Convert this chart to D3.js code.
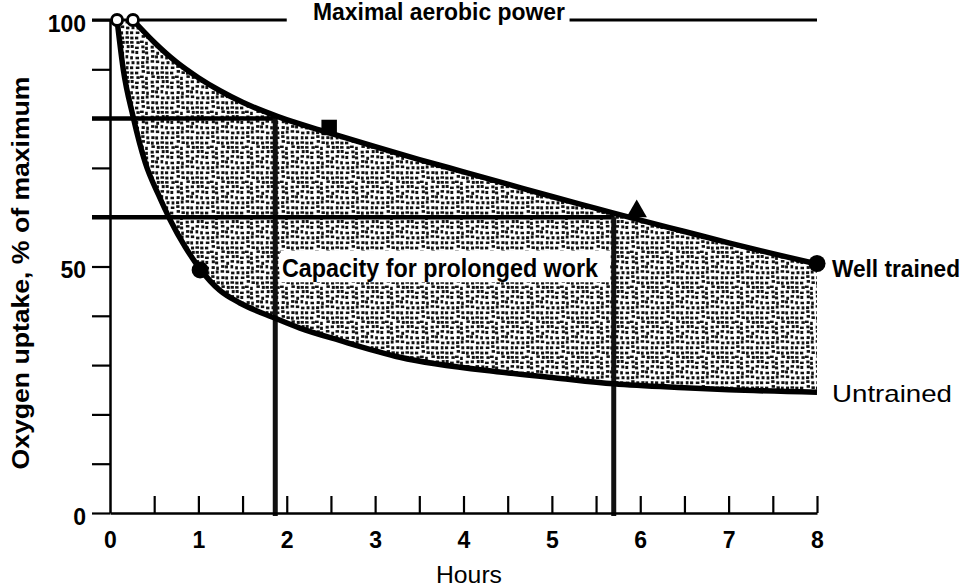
<!DOCTYPE html>
<html><head><meta charset="utf-8">
<script src="https://cdn.jsdelivr.net/npm/d3@7"></script>
<style>html,body{margin:0;padding:0;background:#fff;} svg{display:block;}</style>
</head><body><svg id="chart" width="967" height="587"></svg>
<script>
// ---- data ----
const hourTicks = [0,1,2,3,4,5,6,7,8];
const minorHourTicks = [0.5,1,1.5,2,2.5,3,3.5,4,4.5,5,5.5,6,6.5,7,7.5,8];
const pctTicks = [0,10,20,30,40,50,60,70,80,90,100];
const pctTickLabels = [0,50,100];

const wellTrainedHours = [0.26,0.5,0.75,1.0,1.25,1.5,1.9,2.5,3.0,3.5,4.0,4.5,5.0,5.5,6.0,6.5,7.0,7.5,8.0];
const wellTrainedPct   = [100,95.5,91.5,88.3,85.6,83.3,80.4,77,74.3,71.7,69.2,66.7,64.2,61.8,59.4,57.1,54.8,52.6,50.5];

const untrainedHours = [0.08,0.15,0.26,0.4,0.55,0.68,0.85,1.02,1.24,1.47,1.87,2.15,2.6,3.28,4.41,5.0,5.7,6.5,7.0,8.0];
const untrainedPct   = [100,90,80.5,71,64.5,59.5,54,49.5,45.2,42.6,39.5,37.5,35,31.6,28.6,27.5,26.2,25.4,25,24.5];

const openMarkerHours = [0.08,0.26];
const openMarkerPct = [100,100];
const wellTrainedMarkerHours = [2.48,5.96,8.0];
const wellTrainedMarkerPct = [78.2,61.2,50.6];
const wellTrainedMarkerShapes = ["square","triangle","circle"];
const untrainedMarkerHours = [1.02];
const untrainedMarkerPct = [49.3];

const capacityLevels = [80,60];          // % of max
const capacityHours = [1.87,5.7];        // hours sustainable
const maxPowerLevel = 100;
const maxPowerSegments = [[0,2.0],[5.2,8.0]];

// ---- chart ----
const svg = d3.select("#chart");
const x = d3.scaleLinear().domain([0,8]).range([110,817]);
const y = d3.scaleLinear().domain([0,100]).range([513,20]);
const FONT = "'Liberation Sans', Arial, sans-serif";

// stipple texture (deterministic jittered grid)
const defs = svg.append("defs");
const T = 35, G = 7, S = T / G;
const pat = defs.append("pattern").attr("id","stipple")
  .attr("patternUnits","userSpaceOnUse").attr("width",T).attr("height",T);
pat.append("rect").attr("width",T).attr("height",T).attr("fill","#fff");
const frac = v => v - Math.floor(v);
for (let r = 0; r < G; r++) for (let c = 0; c < G; c++) {
  const k = r * G + c;
  const jx = frac(Math.sin(k * 12.9898 + 1.3) * 43758.5453);
  const jy = frac(Math.sin(k * 78.233 + 4.1) * 24634.6345);
  const jw = frac(Math.sin(k * 3.77 + 9.2) * 9631.11);
  pat.append("rect")
    .attr("x", c * S + jx * 1.8).attr("y", r * S + jy * 1.8)
    .attr("width", 2.6 + jw * 1.1).attr("height", 3.3 - jw * 0.9)
    .attr("fill", "#111");
}

const upper = wellTrainedHours.map((h,i)=>[h,wellTrainedPct[i]]);
const lower = untrainedHours.map((h,i)=>[h,untrainedPct[i]]);
const line = d3.line().x(d=>x(d[0])).y(d=>y(d[1])).curve(d3.curveMonotoneX);

// shaded capacity band
const bandPath = line(upper) + line(lower.slice().reverse()).replace(/^M/,"L") + "Z";
svg.append("path").attr("d",bandPath).attr("fill","url(#stipple)").attr("stroke","none");

// white box behind label
svg.append("rect").attr("x",x(1.93)).attr("y",y(53.2)).attr("width",x(5.66)-x(1.93))
  .attr("height",y(46.8)-y(53.2)).attr("fill","#fff");

// capacity reference lines
capacityLevels.forEach((lvl,i)=>{
  svg.append("line").attr("x1",92).attr("x2",x(capacityHours[i]))
    .attr("y1",y(lvl)).attr("y2",y(lvl)).attr("stroke","#000").attr("stroke-width",4.5);
  svg.append("line").attr("x1",x(capacityHours[i])).attr("x2",x(capacityHours[i]))
    .attr("y1",y(lvl)).attr("y2",y(0)+3).attr("stroke","#111").attr("stroke-width",5);
});

// maximal aerobic power line
maxPowerSegments.forEach(([a,b],i)=>{
  svg.append("line").attr("x1",i===0?92:x(a)).attr("x2",x(b))
    .attr("y1",y(maxPowerLevel)).attr("y2",y(maxPowerLevel))
    .attr("stroke","#000").attr("stroke-width",3);
});

// curves
svg.append("path").attr("d",line(upper)).attr("fill","none").attr("stroke","#000").attr("stroke-width",5.5);
svg.append("path").attr("d",line(lower)).attr("fill","none").attr("stroke","#000").attr("stroke-width",5.5);

// axes
const yAxis = d3.axisLeft(y).tickValues(pctTicks).tickSize(18).tickSizeOuter(0).tickPadding(6)
  .tickFormat(d => pctTickLabels.includes(d) ? d : "");
const gy = svg.append("g").attr("transform",`translate(${x(0)},0)`).call(yAxis);
gy.select(".domain").attr("stroke","#000").attr("stroke-width",2.5);
gy.selectAll(".tick line").attr("stroke","#000").attr("stroke-width",2.2);
gy.selectAll(".tick text").attr("font-family",FONT).attr("font-weight","bold")
  .attr("font-size",23).attr("fill","#000").attr("dy","0.48em");

const xMinor = d3.axisTop(x).tickValues(minorHourTicks).tickSize(17).tickSizeOuter(0).tickFormat("");
const gxm = svg.append("g").attr("transform",`translate(0,${y(0)})`).call(xMinor);
gxm.select(".domain").attr("stroke","#000").attr("stroke-width",2.5);
gxm.selectAll(".tick line").attr("stroke","#000").attr("stroke-width",2.2);

const xAxis = d3.axisBottom(x).tickValues(hourTicks).tickSize(0).tickPadding(19);
const gx = svg.append("g").attr("transform",`translate(0,${y(0)})`).call(xAxis);
gx.select(".domain").remove();
gx.selectAll(".tick text").attr("font-family",FONT).attr("font-weight","bold")
  .attr("font-size",23).attr("fill","#000");

// markers
svg.selectAll(".openmk").data(openMarkerHours).join("circle")
  .attr("cx",d=>x(d)).attr("cy",(d,i)=>y(openMarkerPct[i])).attr("r",5.5)
  .attr("fill","#fff").attr("stroke","#000").attr("stroke-width",2.8);
const symType = {square:d3.symbolSquare, triangle:d3.symbolTriangle, circle:d3.symbolCircle};
const symSize = {square:240, triangle:180, circle:230};
svg.selectAll(".wtmk").data(wellTrainedMarkerHours).join("path")
  .attr("transform",(d,i)=>`translate(${x(d)},${y(wellTrainedMarkerPct[i])})`)
  .attr("d",(d,i)=>d3.symbol().type(symType[wellTrainedMarkerShapes[i]]).size(symSize[wellTrainedMarkerShapes[i]])())
  .attr("fill","#000");
svg.selectAll(".utmk").data(untrainedMarkerHours).join("circle")
  .attr("cx",d=>x(d)).attr("cy",(d,i)=>y(untrainedMarkerPct[i])).attr("r",8.5).attr("fill","#000");

// texts
function txt(str, xx, yy, size, weight, len, anchor){
  const t = svg.append("text").attr("x",xx).attr("y",yy).attr("font-family",FONT)
    .attr("font-size",size).attr("font-weight",weight).attr("fill","#000").text(str);
  if(anchor) t.attr("text-anchor",anchor);
  if(len) t.attr("textLength",len).attr("lengthAdjust","spacingAndGlyphs");
  return t;
}
txt("Maximal aerobic power", 313, 20, 23, "bold", 252);
txt("Capacity for prolonged work", 282, 277, 25, "bold", 316);
txt("Well trained", 832, 277, 23, "bold", 128);
txt("Untrained", 832, 402, 24, "normal", 120);
txt("Hours", 469, 583, 24, "normal", 66, "middle");
svg.append("text").attr("transform","translate(29,273) rotate(-90)")
  .attr("text-anchor","middle").attr("font-family",FONT).attr("font-size",24)
  .attr("font-weight","bold").attr("fill","#000")
  .attr("textLength",393).attr("lengthAdjust","spacingAndGlyphs")
  .text("Oxygen uptake, % of maximum");
</script>
</body></html>
